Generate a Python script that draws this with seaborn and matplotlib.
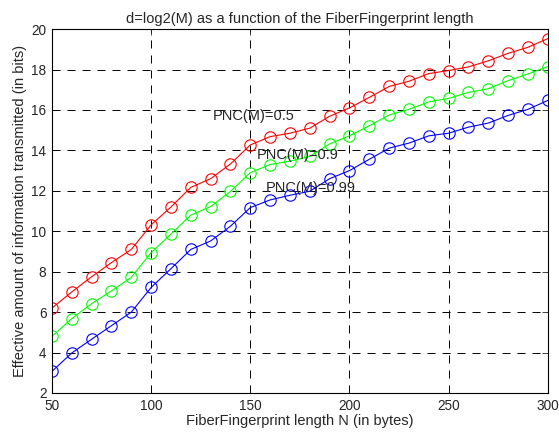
import seaborn as sns
import matplotlib.pyplot as plt
import pandas as pd

sns.set_style("white")
plt.rcParams['font.family'] = ['Liberation Sans', 'DejaVu Sans']
plt.rcParams['lines.scale_dashes'] = False

n_bytes = [50, 60, 70, 80, 90, 100, 110, 120, 130, 140, 150, 160, 170,
           180, 190, 200, 210, 220, 230, 240, 250, 260, 270, 280, 290, 300]

pnc_05 = [6.2, 7.0, 7.75, 8.45, 9.1, 10.32, 11.2, 12.17, 12.6, 13.33, 14.27, 14.68, 14.85,
          15.1, 15.69, 16.1, 16.62, 17.16, 17.42, 17.8, 17.95, 18.13, 18.43, 18.8, 19.1, 19.53]
pnc_09 = [4.8, 5.68, 6.42, 7.05, 7.72, 8.94, 9.86, 10.8, 11.22, 11.97, 12.9, 13.3, 13.47,
          13.7, 14.32, 14.72, 15.22, 15.75, 16.03, 16.4, 16.57, 16.87, 17.05, 17.45, 17.78, 18.14]
pnc_099 = [3.07, 3.98, 4.66, 5.33, 6.0, 7.22, 8.15, 9.1, 9.52, 10.25, 11.17, 11.55, 11.78,
           11.98, 12.6, 13.0, 13.56, 14.11, 14.36, 14.72, 14.85, 15.15, 15.35, 15.73, 16.03, 16.47]

series = {"PNC(M)=0.5": pnc_05, "PNC(M)=0.9": pnc_09, "PNC(M)=0.99": pnc_099}
colors = {"PNC(M)=0.5": "#ff0000", "PNC(M)=0.9": "#00ff00", "PNC(M)=0.99": "#0000ff"}
label_pos = {"PNC(M)=0.5": (131, 15.68), "PNC(M)=0.9": (153, 13.78), "PNC(M)=0.99": (158, 12.12)}

df = pd.DataFrame([(x, y, name) for name, ys in series.items() for x, y in zip(n_bytes, ys)],
                  columns=["N", "bits", "PNC"])

fig = plt.figure(figsize=(5.59, 4.34), dpi=100)
ax = fig.add_axes([0.093, 0.0945, 0.887, 0.8385])

for name in series:
    sns.lineplot(data=df[df["PNC"] == name], x="N", y="bits", color=colors[name],
                 marker="o", markersize=8.2, markerfacecolor="none",
                 markeredgecolor=colors[name], markeredgewidth=0.8,
                 linewidth=0.8, ax=ax)
    ax.text(*label_pos[name], name, ha="left", va="center", fontsize=10.5)

ax.set_xlim(50, 300)
ax.set_ylim(2, 20)
ax.set_xticks(range(50, 301, 50))
ax.set_yticks(range(2, 21, 2))
ax.grid(True, color="black", linestyle=(0, (5.8, 5.0)), linewidth=0.7)
ax.tick_params(direction="in", labelsize=9.8, length=4, top=True, right=True, width=0.6, pad=4)
for s in ax.spines.values():
    s.set_color("black")
    s.set_linewidth(0.8)

ax.set_title("d=log2(M) as a function of the FiberFingerprint length", fontsize=10.5, pad=4.5)
ax.set_xlabel("FiberFingerprint length N (in bytes)", fontsize=10.5, labelpad=1)
ax.set_ylabel("Effective amount of information transmitted (in bits)", fontsize=10.5, labelpad=3)

fig.savefig("out.png", dpi=100)
